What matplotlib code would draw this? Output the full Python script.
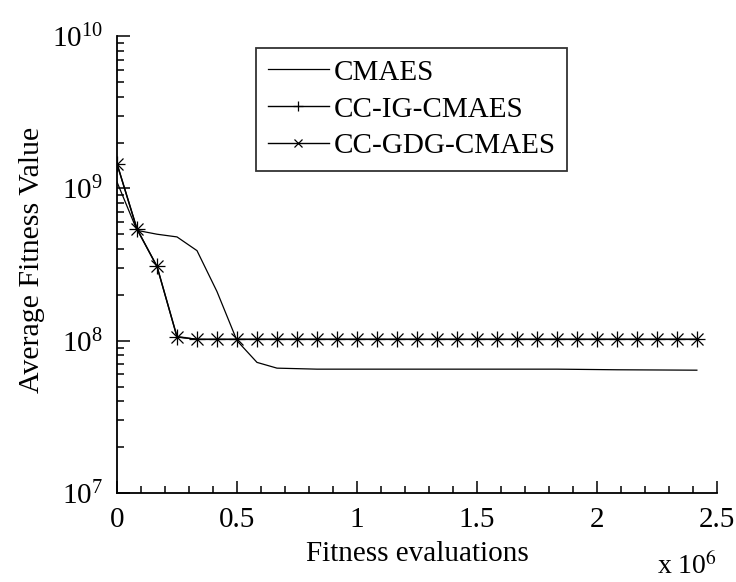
import matplotlib.pyplot as plt
from matplotlib.ticker import MultipleLocator, LogLocator, NullFormatter

plt.rcParams['font.family'] = ['Liberation Serif', 'DejaVu Serif']
plt.rcParams['mathtext.fontset'] = 'stix'

# evaluations (x 1e6)
evals = [i * 2.5 / 30 for i in range(30)]

cmaes = [1.1e9, 5.3e8, 5.0e8, 4.8e8, 3.9e8, 2.1e8, 1.0e8, 7.2e7, 6.6e7, 6.55e7,
         6.5e7, 6.5e7, 6.5e7, 6.5e7, 6.5e7, 6.5e7, 6.5e7, 6.5e7, 6.5e7, 6.5e7,
         6.5e7, 6.5e7, 6.5e7, 6.48e7, 6.46e7, 6.44e7, 6.43e7, 6.42e7, 6.41e7, 6.4e7]
cc_ig = [1.45e9, 5.4e8, 3.07e8, 1.06e8] + [1.02e8] * 26
cc_gdg = [1.45e9, 5.4e8, 3.07e8, 1.06e8] + [1.02e8] * 26

fig = plt.figure(figsize=(7.36, 5.82), dpi=100)
ax = fig.add_axes([0.159, 0.153, 0.815, 0.785])

ax.plot(evals, cmaes, color='black', linewidth=0.9, label='CMAES')
ax.plot(evals, cc_ig, color='black', linewidth=1.0, marker='+', markersize=11,
        markeredgewidth=0.9, label='CC-IG-CMAES')
ax.plot(evals, cc_gdg, color='black', linewidth=1.0, marker='x', markersize=8,
        markeredgewidth=0.9, label='CC-GDG-CMAES')

ax.set_yscale('log')
ax.set_ylim(1e7, 1e10)
ax.set_xlim(0, 2.5)
ax.xaxis.set_minor_locator(MultipleLocator(0.1))
ax.set_xticks([0, 0.5, 1, 1.5, 2, 2.5])
ax.set_xticklabels(['0', '0.5', '1', '1.5', '2', '2.5'])
ax.yaxis.set_minor_locator(LogLocator(base=10, subs=range(2, 10)))
ax.yaxis.set_minor_formatter(NullFormatter())

for s in ['top', 'right']:
    ax.spines[s].set_visible(False)
for s in ['left', 'bottom']:
    ax.spines[s].set_linewidth(1.3)

ax.tick_params(which='both', direction='in', labelsize=21, width=1.1)
ax.tick_params(which='major', length=9, pad=10)
ax.tick_params(which='minor', length=5)

ax.set_xlabel('Fitness evaluations', fontsize=21, labelpad=6)
ax.set_ylabel('Average Fitness Value', fontsize=21.5, labelpad=4)
ax.yaxis.set_label_coords(-0.12, 0.51)
fig.text(0.975, 0.003, r'x 10$^{6}$', fontsize=20, ha='right', va='bottom')

leg = ax.legend(loc='upper left', bbox_to_anchor=(0.232, 0.975), fontsize=21,
                frameon=True, fancybox=False, edgecolor='black',
                handlelength=2.1, handletextpad=0.15, borderpad=0.4,
                labelspacing=0.36, borderaxespad=0, markerscale=0.65)
leg.get_frame().set_linewidth(1.3)

fig.savefig('out.png', dpi=100)
